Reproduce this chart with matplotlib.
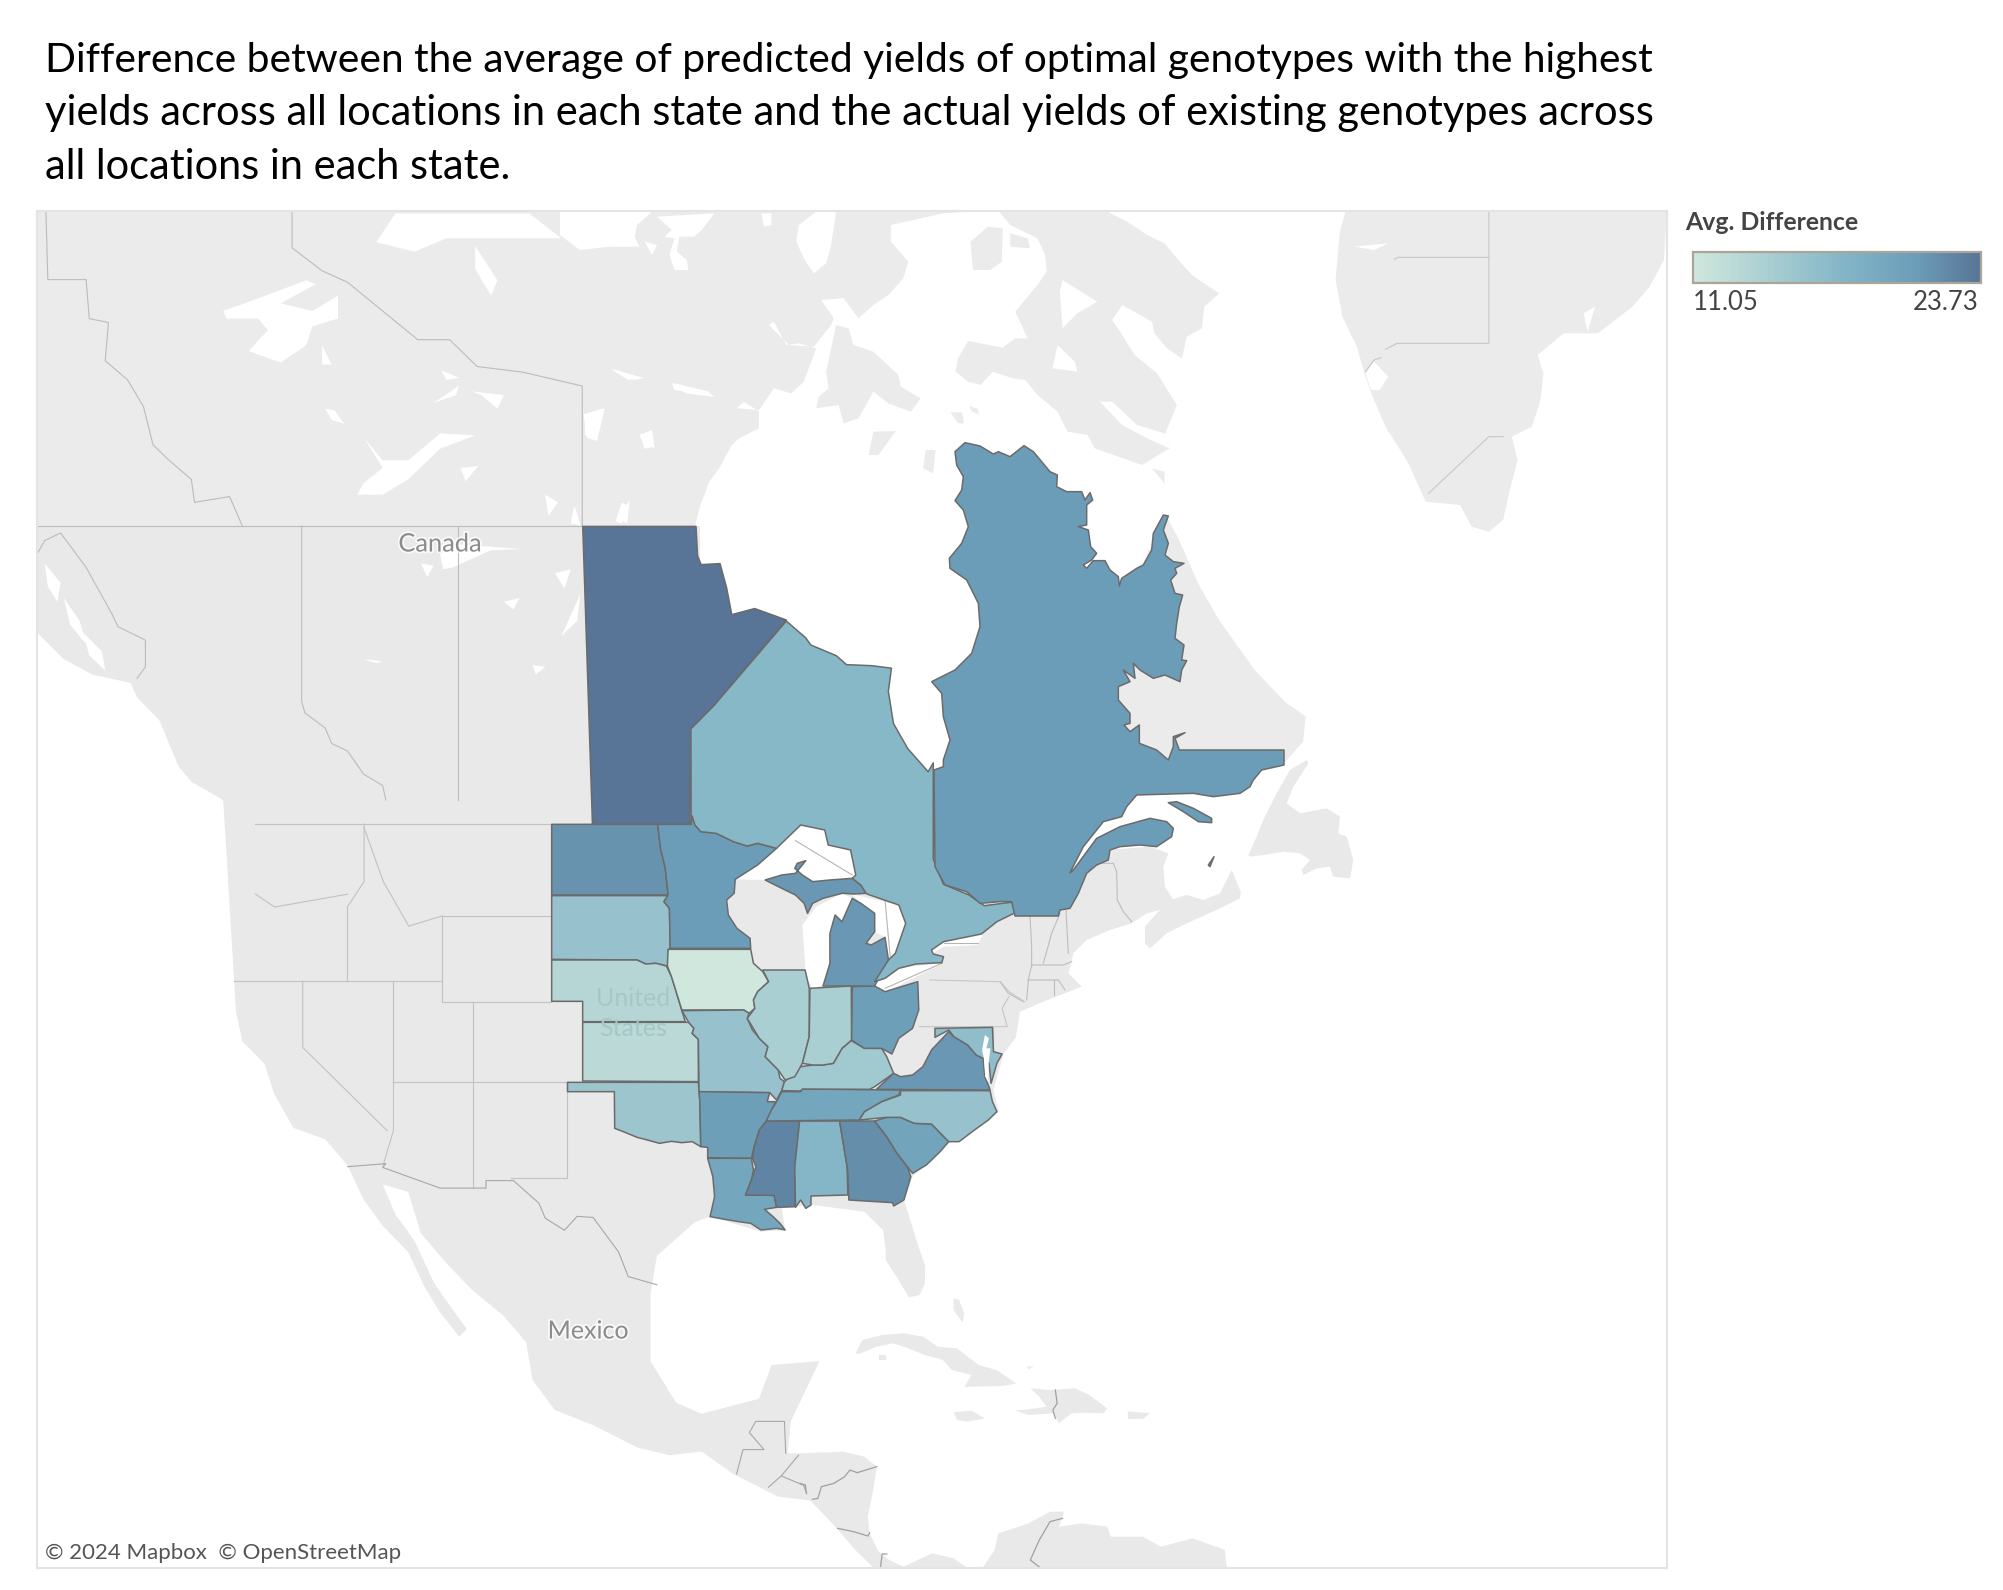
import matplotlib
matplotlib.use("Agg")
import matplotlib.pyplot as plt
import matplotlib.patheffects as pe
from matplotlib.cm import ScalarMappable
from matplotlib.colors import LinearSegmentedColormap, Normalize
from matplotlib.patches import Polygon

CROP_A = (520, 800, 2.904, 3.0)    # US states
CROP_C = (520, 420, 1.96, 2.8)     # Manitoba, Ontario
CROP_Q = (900, 430, 3.0, 3.0)      # Quebec
CROP_W = (0, 200, 1.568, 2.613)    # western Canada
CROP_M = (0, 1000, 1.568, 2.658)   # Mexico
CROP_N = (560, 205, 2.01, 3.0)     # arctic
CROP_E = (800, 200, 1.742, 3.0)    # Greenland
CROP_T = (1000, 700, 3.0, 3.0)     # Maritimes
CROP_K = (800, 1250, 2.8, 3.0)     # Caribbean
CROP_S = (0, 0, 0.7828, 0.7828)    # whole picture at 1568 wide

TITLE_LINES = [
    "Difference between the average of predicted yields of optimal genotypes with the highest",
    "yields across all locations in each state and the actual yields of existing genotypes across",
    "all locations in each state.",
]
TITLE_SIZES = [29.35, 29.95, 29.9]
VALUE_MIN = 11.05
VALUE_MAX = 23.73
COLOR_STOPS = [(0.0, "#cfe7dd"), (0.55, "#80b3c6"), (0.775, "#6c9db8"), (1.0, "#587496")]

STATE_VALUES = {
    "MB": 23.73, "ON": 17.4, "QC": 20.9, "ND": 21.6, "SD": 16.0, "NE": 13.3, "KS": 12.9,
    "OK": 15.6, "MN": 20.9, "IA": 11.05, "MO": 16.0, "AR": 20.6, "LA": 19.7, "MS": 22.5,
    "AL": 17.65, "GA": 21.9, "SC": 20.0, "NC": 16.0, "TN": 19.7, "KY": 15.1, "IL": 14.3,
    "IN": 14.3, "OH": 20.6, "MI": 21.2, "VA": 21.2, "MD": 16.7,
}

ND = [(92,73),(400,73),(408,145),(422,205),(430,285),(92,285)]
SD = [(92,287),(430,287),(418,305),(434,325),(436,445),(430,450),(432,500),(415,495),(395,490),(365,492),(340,480),(92,478)]
NE = [(92,480),(340,480),(365,492),(395,490),(425,498),(440,530),(452,570),(470,632),(480,665),(182,665),(182,604),(92,604)]
KS = [(182,667),(490,667),(505,685),(500,700),(518,718),(518,845),(182,843)]
OK = [(138,847),(518,847),(522,900),(525,1040),(500,1025),(470,1028),(440,1024),(405,1030),(370,1020),(340,1012),(300,995),(275,985),(274,875),(138,875)]
MN = [(400,73),(497,73),(500,48),(508,75),(525,95),(570,100),(620,125),(660,138),(690,130),(745,145),(690,195),(625,238),(622,280),(600,300),(605,345),(630,385),(668,415),(670,445),(436,445),(434,325),(418,305),(430,285),(422,205),(408,145)]
IA = [(430,448),(670,448),(678,490),(705,515),(722,545),(690,575),(678,600),(682,625),(665,640),(650,630),(470,630),(452,570),(440,530),(428,498)]
MO = [(470,632),(650,630),(665,640),(660,655),(675,690),(695,715),(720,740),(712,770),(750,810),(755,835),(768,845),(760,872),(745,900),(725,878),(520,875),(518,718),(500,700),(505,685),(490,667)]
AR = [(520,875),(725,878),(718,905),(742,905),(725,945),(715,965),(695,990),(680,1040),(672,1075),(545,1073),(545,1042),(525,1040),(522,900)]
LA = [(545,1075),(672,1075),(678,1110),(672,1140),(655,1185),(738,1186),(745,1222),(710,1228),(735,1250),(755,1270),(770,1290),(745,1285),(700,1290),(670,1270),(635,1265),(595,1258),(552,1250),(565,1190),(560,1130)]
MS = [(715,963),(812,963),(798,1100),(800,1220),(745,1222),(738,1186),(655,1185),(672,1140),(685,1100),(675,1075),(680,1040),(695,990)]
AL = [(812,963),(928,963),(950,1100),(952,1185),(845,1188),(845,1215),(830,1225),(815,1200),(800,1222),(798,1100)]
GA = [(928,963),(1030,963),(1065,1010),(1095,1060),(1125,1100),(1135,1130),(1115,1200),(1085,1218),(1082,1208),(955,1200),(952,1120),(950,1100)]
SC = [(1030,963),(1065,952),(1105,952),(1145,970),(1195,972),(1245,1025),(1220,1055),(1180,1095),(1140,1120),(1125,1100),(1095,1060),(1065,1010)]
NC = [(1105,872),(1365,872),(1372,905),(1385,935),(1360,960),(1320,990),(1275,1025),(1245,1025),(1195,972),(1145,970),(1105,952),(1065,952),(985,960),(1000,935),(1050,905),(1105,885)]
TN = [(760,875),(815,875),(820,867),(1105,870),(1100,885),(1050,905),(1000,935),(985,960),(715,963),(730,930),(745,905)]
KY = [(768,845),(815,800),(850,795),(880,795),(910,790),(935,745),(962,722),(1000,745),(1050,745),(1065,770),(1085,820),(1030,860),(1015,868),(820,867),(815,873),(760,872)]
IL = [(705,510),(828,510),(840,565),(840,710),(820,790),(798,830),(770,840),(750,810),(712,770),(720,740),(695,715),(660,655),(682,625),(678,600),(690,575),(722,545)]
IN = [(842,565),(962,558),(963,720),(935,745),(910,790),(880,795),(850,795),(820,790),(840,710)]
OH = [(965,560),(1030,558),(1060,575),(1155,545),(1158,630),(1140,685),(1100,715),(1080,762),(1050,745),(1000,745),(963,720)]
MI_LOWER = [(880,558),(1030,558),(1070,480),(1060,412),(1020,435),(1005,430),(1030,395),(1030,340),(990,310),(965,295),(935,365),(915,345),(900,400),(900,490)]
MI_UPPER = [(712,240),(760,225),(800,220),(830,182),(805,190),(798,205),(820,225),(850,245),(900,240),(965,235),(990,255),(1005,280),(970,282),(935,280),(880,295),(850,310),(835,340),(825,310),(800,285),(760,265)]
VA = [(1035,868),(1085,820),(1105,830),(1140,825),(1170,800),(1195,750),(1245,695),(1260,710),(1300,735),(1325,765),(1345,775),(1350,830),(1362,860),(1365,870)]
MD = [(1205,685),(1372,682),(1375,755),(1400,762),(1385,790),(1368,850),(1362,790),(1345,775),(1325,765),(1300,735),(1260,710),(1245,690),(1205,712)]

MB = [(123,298),(345,298),(348,380),(355,405),(392,402),(405,470),(415,545),(460,528),(522,560),(380,800),(335,865),(333,1132),(142,1132)]
ON_NORTH = [(335,865),(380,800),(522,563),(560,610),(570,630),(620,660),(640,685),(690,688),(728,695),(722,760),(732,850),(760,920),(800,985),(810,960),(810,1230),(830,1300),(880,1330),(910,1360),(965,1350),(970,1380)]
ON_SOUTH = [(1385,365),(1340,402),(1230,425),(1195,450),(1200,462),(1230,470),(1225,488),(1150,492),(1100,505),(1060,535),(1030,545),(1070,480),(1090,460),(1120,370),(1100,315),(1010,283),(1005,280),(990,255),(965,235),(975,225),(960,150),(895,135),(885,90),(815,75),(765,125),(745,145),(690,130),(660,138),(620,125),(570,100),(525,95),(508,75),(500,48),(497,73)]

QC = [(165,65),(195,38),(240,48),(280,72),(295,65),(330,80),(372,47),(400,65),(425,95),(450,125),(472,135),(470,170),(500,185),(545,185),(555,210),(570,188),(578,210),(560,225),(560,285),(535,290),(565,300),(572,350),(590,370),(575,390),(550,405),(560,415),(580,392),(615,392),(630,420),(655,440),(658,468),(665,445),(710,415),(730,405),(755,360),(760,310),(790,255),(805,258),(790,300),(805,340),(795,375),(820,395),(852,400),(825,415),(830,430),(812,450),(825,490),(848,495),(838,530),(830,580),(825,625),(852,645),(845,690),(860,692),(845,720),(840,755),(795,735),(760,745),(720,720),(700,700),(705,745),(670,720),(690,755),(655,770),(655,810),(690,850),(690,880),(672,885),(690,905),(718,885),(718,940),(770,960),(805,990),(820,950),(820,920),(855,908),(825,925),(838,960),(1152,960),(1152,1005),(1085,1020),(1060,1050),(1050,1070),(1020,1090),(940,1100),(880,1090),(710,1095),(680,1130),(665,1160),(610,1175),(550,1250),(510,1328),(520,1320),(590,1225),(660,1190),(750,1165),(800,1175),(820,1195),(815,1220),(770,1250),(720,1245),(660,1250),(630,1260),(625,1290),(590,1305),(560,1330),(535,1390),(510,1435),(480,1440),(475,1458),(345,1458),(335,1415),(300,1415),(240,1420),(200,1385),(135,1365),(105,1310),(102,1020),(130,1010),(130,990),(150,930),(130,860),(125,790),(95,755),(165,720),(215,670),(240,590),(235,520),(200,450),(150,415),(148,385),(185,340),(205,290),(190,240),(165,212),(185,180),(190,140),(170,105)]
QC_ANTICOSTI = [(805,1118),(830,1115),(880,1135),(935,1165),(935,1178),(895,1175),(850,1145)]
QC_MAGDALEN = [(925,1305),(942,1280),(930,1310)]

# background land
ARCTIC_EAST = [(1100,20),(1140,50),(1180,90),(1215,115),(1240,160),(1270,210),(1325,265),(1295,305),(1290,370),(1260,395),(1250,460),(1220,430),(1195,385),(1190,350),(1130,300),(1110,345),(1130,390),(1155,450),(1200,505),(1240,600),(1215,690),(1225,730),(1170,780)]
HUDSON_NORTH = [(665,60),(770,25),(880,15),(905,60),(960,100),(975,150),(978,200),(960,240),(915,320),(940,400),(915,400),(890,428),(820,408),(800,460),(795,500),(820,530),(845,540),(870,500),(910,520),(935,525),(960,570),(1000,620),(1020,680),(1060,690),(1075,730),(1170,780),(1190,800),(1215,830),(1400,830),(1400,1020)]
HUDSON_SOUTH = [(1000,900),(800,985),(760,920),(732,850),(722,760),(728,695),(690,688),(640,685),(620,660),(570,630),(522,563),(460,528),(415,545),(405,470),(392,402),(355,405),(348,380),(345,298)]
HUDSON_WEST = [(272,960),(280,910),(300,830),(320,790),(345,720),(360,700),(400,670),(400,620),(370,590),(355,610),(400,615),(430,550),(465,565),(490,530),(515,430),(480,415),(455,420),(430,350),(420,360),(460,420),(510,425),(545,360),(550,340),(525,285),(570,280),(600,340),(630,300),(660,270),(690,220),(700,170),(665,110)]
LABRADOR = [(1265,265),(1290,330),(1330,460),(1370,560),(1440,700),(1500,790),(1540,830),(1535,900),(1495,965),(1400,1000),(1100,950),(1100,600),(1170,480),(1215,420)]
WEST_COAST = [(58,852),(58,1130),(100,1200),(145,1240),(205,1262),(215,1300),(250,1360),(280,1480),(300,1520),(350,1568)]
PACIFIC_US = [(370,30),(380,110),(415,170),(430,250),(460,340),(510,370),(545,440),(570,530),(600,600),(640,670),(665,760),(690,830),(720,895),(732,875),(700,800),(680,750),(650,640),(620,570),(600,490),(640,510),(660,620),(700,700),(740,770),(790,840),(825,910),(835,1010),(870,1090),(930,1130),(1000,1190),(1050,1210),(1100,1200),(1150,1260),(1220,1320),(1270,1330),(1310,1400),(1340,1460),(1370,1510)]
ISTHMUS = [(195,955),(470,955),(430,925),(370,910),(290,950),(250,930),(220,905),(195,850),(190,800),(205,720),(215,650),(180,620),(120,605),(0,610)]
GULF_MEXICO = [(1235,1205),(1240,1120),(1285,960),(1210,970),(1190,1060),(1100,1100),(1060,1070),(1020,960),(1020,780),(1030,680),(1090,590),(1115,575)]
GULF_US = [(552,1250),(700,1295),(770,1290),(760,1225),(850,1215),(1000,1235),(1054,1290)]
FLORIDA = [(240,0),(240,30),(270,80),(305,142),(335,135),(350,100),(350,45),(335,0)]
ATLANTIC_US = [(1115,1200),(1140,1130),(1245,1030),(1390,935),(1375,870),(1405,760),(1440,712)]
NEW_ENGLAND = [(60,935),(130,905),(245,860),(205,820),(220,760),(260,720),(330,690),(395,670),(440,640),(520,620),(545,625),(520,600),(495,560),(490,500),(505,460),(450,440),(320,450)]
NOVA_SCOTIA = [(435,680),(470,640),(510,600),(560,585),(610,600),(660,580),(695,510),(722,575),(720,595),(660,625),(560,670),(500,700),(450,745),(435,730)]
NEWFOUNDLAND = [(745,465),(770,410),(790,360),(830,280),(870,210),(920,180),(925,190),(880,260),(860,310),(900,340),(980,325),(1020,350),(1015,400),(1040,410),(1060,480),(1050,535),(1000,530),(990,500),(950,505),(910,525),(905,510),(930,480),(900,460),(850,455),(790,465),(750,470)]
GREENLAND = [(950,35),(940,100),(933,240),(945,350),(970,440),(985,530),(1000,600),(1020,680),(1060,790),(1090,905),(1150,915),(1170,980),(1200,995),(1225,960),(1235,880),(1250,780),(1240,710),(1275,680),(1290,600),(1295,520),(1285,465),(1330,400),(1390,400),(1450,320),(1480,260),(1505,180),(1510,35)]
SOUTHAMPTON = [(555,360),(580,370),(590,420),(630,440),(680,510),(685,545),(725,580),(705,620),(660,595),(630,560),(600,640),(570,655),(560,600),(515,610),(520,575),(540,550),(535,500)]
ARCTIC_ISLANDS = [
    [(825,110),(860,65),(890,70),(888,170),(865,195),(830,195)],
    [(905,85),(940,100),(945,130),(905,125)],
    [(630,680),(675,678),(640,750),(620,750)],
    [(735,735),(755,735),(750,805),(730,790)],
    [(785,622),(808,622),(812,655),(800,655)],
    [(822,602),(840,612),(842,628),(828,620)],
    [(1190,790),(1215,800),(1215,835)],
]
CARIBBEAN = [
    [(155,310),(175,270),(230,255),(290,250),(345,260),(385,290),(440,295),(500,345),(550,360),(605,400),(570,408),(480,410),(460,412),(480,375),(425,360),(400,330),(350,315),(290,290),(260,280),(215,290),(165,312)],
    [(220,315),(240,315),(240,330),(222,330)],
    [(430,487),(480,482),(518,505),(470,515),(440,510)],
    [(645,415),(700,420),(770,415),(810,435),(860,475),(850,490),(800,488),(760,490),(725,520),(710,490),(640,495),(600,480),(625,480),(690,470),(670,440)],
    [(918,484),(980,490),(960,507),(918,507)],
    [(430,145),(445,150),(460,190),(455,218),(430,180)],
    [(635,350),(655,348),(640,358)],
    [(510,955),(545,900),(555,850),(640,820),(700,785),(740,785),(725,830),(790,820),(860,830),(870,860),(960,860),(1010,890),(1100,865),(1190,900),(1195,955)],
]

# lakes and channels
LAKE_SUPERIOR = [(625,238),(660,200),(745,145),(815,75),(885,90),(895,135),(960,150),(975,225),(965,235),(1005,280),(712,240)]
LAKE_MICHIGAN = [(820,375),(860,320),(935,280),(965,295),(935,365),(915,345),(900,400),(900,490),(880,555),(850,565),(830,530),(825,450)]
LAKE_HURON = [(965,283),(1100,315),(1122,370),(1090,470),(1070,480),(1060,412),(1030,395),(1030,340),(990,310)]
LAKE_ERIE = [(1030,545),(1100,505),(1225,488),(1220,495),(1160,525),(1060,578),(1030,560)]
LAKE_ONTARIO = [(1195,450),(1230,425),(1345,400),(1330,435),(1230,440),(1195,462)]
ST_LAWRENCE = [(510,1328),(590,1225),(660,1190),(800,1175),(1000,1100),(700,1095),(665,1160),(610,1175),(550,1250)]
CHESAPEAKE = [(1350,705),(1362,715),(1354,745),(1366,745),(1361,790),(1359,845),(1351,830),(1347,775),(1342,750)]
WEST_LAKES = [
    [(350,290),(400,260),(480,210),(495,220),(440,270),(490,290),(530,250),(530,310),(490,330),(480,380),(440,425),(390,395),(420,340),(405,310),(355,310)],
    [(570,620),(600,680),(640,680),(690,610),(745,615),(690,650),(640,730),(600,770),(560,770),(570,740),(600,700)],
    [(590,110),(620,35),(770,35),(830,35),(880,100),(700,100),(650,135)],
    [(745,120),(780,210),(770,250),(745,180)],
    [(505,380),(520,430),(505,430)],
    [(510,545),(525,550),(540,585),(520,575)],
    [(915,560),(945,545),(935,630),(920,620)],
    [(1005,610),(1025,645),(1010,650)],
    [(1055,478),(1110,500),(1120,515),(1075,505)],
    [(958,442),(1010,465),(985,470)],
    [(975,790),(985,800),(975,845),(965,840)],
    [(855,770),(875,790),(860,825)],
    [(900,800),(910,850),(895,845)],
    [(680,530),(720,485),(715,510)],
    [(740,500),(790,510),(780,545),(755,510)],
    [(692,445),(720,465),(700,470)],
    [(722,700),(750,695),(730,735)],
    [(660,950),(680,955),(670,985)],
    [(870,975),(895,965),(885,1015)],
    [(790,1050),(815,1040),(805,1070)],
    [(835,1215),(855,1220),(840,1240)],
    [(570,1200),(600,1205),(590,1210)],
    [(880,1140),(910,1030),(905,1100)],
    [(690,925),(720,900),(820,912),(770,915),(710,960),(695,965)],
    [(150,1300),(185,1300),(215,1400),(200,1435),(170,1380)],
]
# fjords along the British Columbia coast
COAST_FJORDS = [
    [(70,950),(95,1000),(90,1050),(75,1010)],
    [(100,1040),(125,1100),(135,1160),(110,1110)],
    [(130,1130),(160,1180),(165,1230),(140,1190)],
]
NORTH_LAKES = [
    [(0,20),(185,20),(155,60),(150,95),(160,125),(100,125),(40,135),(0,90)],
    [(195,35),(310,25),(285,75),(270,95),(240,95),(235,140),(255,165),(258,195),(230,195),(220,150),(230,100),(210,95),(225,75)],
    [(405,25),(425,25),(425,60),(410,65)],
    [(480,60),(515,20),(555,20),(545,120),(535,175),(510,205),(490,160),(475,110)],
    [(170,110),(195,120),(185,150)],
    [(1010,225),(1080,290),(1040,325),(1010,370),(1005,260)],
    [(1000,420),(1035,470),(1040,500),(990,490)],
    [(1085,590),(1110,590),(1160,660),(1215,685),(1225,730),(1180,700),(1130,660)],
    [(1015,680),(1040,690),(1040,715),(1015,690)],
    [(50,630),(90,610),(75,705),(50,690)],
    [(160,690),(185,675),(190,730),(165,710)],
    [(225,535),(295,560),(290,570),(230,555)],
    [(105,490),(165,520),(150,525)],
    [(115,940),(140,885),(135,955)],
    [(30,905),(40,955),(25,955)],
    [(530,285),(570,280),(595,340),(555,345)],
]
GREENLAND_FJORDS = [
    [(985,520),(1000,485),(1025,530),(1010,570),(995,570)],
    [(1365,340),(1385,320),(1372,395)],
    [(965,140),(1025,130),(1000,150)],
]

# thin borders, one list per line
WEST_BORDERS = [
    [(473,852),(473,1310),(478,1340),(510,1380),(520,1420),(545,1440),(570,1500),(600,1530),(605,1568)],
    [(718,852),(718,1568)],
    [(72,30),(75,208),(135,208),(140,310),(170,320),(165,420),(200,470),(225,540),(240,640),(265,680),(300,730),(305,790),(360,775),(380,852)],
    [(458,30),(458,125),(505,185),(545,215),(655,365),(705,365),(748,435),(820,450),(913,486),(913,852)],
    [(60,920),(70,890),(95,870),(135,960),(175,1080),(185,1115),(228,1150),(228,1220),(215,1250)],
    [(60,852),(913,852)],
]
US_WEST_BORDERS = [
    [(200,645),(463,645)],
    [(285,645),(285,690),(272,710),(272,768)],
    [(285,648),(300,690),(320,725),(346,717)],
    [(346,717),(346,784),(431,784),(431,717),(346,717)],
    [(200,700),(215,710),(272,700)],
    [(183,768),(346,768)],
    [(308,768),(308,847)],
    [(237,768),(237,820),(303,885)],
    [(370,784),(370,930)],
    [(308,847),(444,847)],
    [(308,847),(308,885),(302,905),(300,912)],
    [(444,847),(444,922),(400,922)],
]
MEXICO_BORDERS = [
    [(545,443),(605,435),(600,445),(690,500),(762,500),(762,480),(805,480),(845,540),(855,580),(885,612),(905,575),(930,578),(970,670),(985,735),(1030,757)],
    [(1155,1260),(1165,1195),(1198,1195),(1175,1150),(1185,1120),(1230,1120),(1232,1205)],
    [(1205,1295),(1225,1265),(1252,1210)],
    [(1225,1265),(1260,1290),(1265,1312)],
]
CARIBBEAN_BORDERS = [
    [(0,700),(15,705),(18,730)],
    [(35,748),(50,745),(60,710),(95,700),(125,680),(140,660),(160,668),(215,650)],
    [(105,835),(150,845),(190,858),(195,848)],
    [(225,955),(230,912),(243,912)],
    [(735,805),(700,815),(670,870),(645,930),(675,955)],
    [(715,420),(720,460),(708,480),(715,505)],
]
NORTHEAST_BORDERS = [
    [(295,490),(340,490),(350,515),(352,600),(370,635),(395,665)],
    [(90,648),(95,740),(95,800)],
    [(180,640),(155,700),(130,790)],
    [(198,632),(205,760)],
    [(95,795),(190,795),(215,785)],
    [(95,795),(85,840),(80,900)],
    [(85,840),(175,840),(195,870)],
    [(163,840),(163,885)],
    [(0,845),(25,880),(70,905)],
]
NEW_YORK_BORDERS = [
    [(1190,540),(1395,545),(1420,575),(1465,605)],
    [(1160,680),(1415,680),(1400,625),(1420,590)],
    [(1375,680),(1375,760)],
]
LAKE_BORDERS = [
    [(800,122),(965,225)],
    [(1060,300),(1075,470)],
    [(1060,565),(1225,490)],
    [(1230,430),(1330,430)],
]
GREENLAND_BORDERS = [
    [(1200,35),(1200,430),(1040,430),(1020,448)],
    [(1035,178),(1042,172),(1200,172)],
    [(1095,880),(1200,710),(1225,710)],
    [(985,515),(1000,480),(1012,473)],
]

LAND = "#e9e9e9"
LAND_NORTH = "#ebebeb"
EDGE = "#6b6b6b"

plt.rcParams["font.family"] = ["Lato", "DejaVu Sans"]


def place(points, crop):
    left, top, sx, sy = crop
    return [(left + x / sx, top + y / sy) for x, y in points]


fig = plt.figure(figsize=(20.03, 15.90), dpi=100)
# the map axes sits on the frame, its units are picture pixels
ax = fig.add_axes([37 / 2003, 1 - 1568 / 1590, (1667 - 37) / 2003, (1568 - 211) / 1590])
ax.set_xlim(37, 1667)
ax.set_ylim(1568, 211)
ax.set_xticks([])
ax.set_yticks([])
for spine in ax.spines.values():
    spine.set_color("#e4e4e4")
    spine.set_linewidth(1.5)


def fill(points, color, z):
    ax.add_patch(Polygon(points, closed=True, facecolor=color, edgecolor="none", zorder=z))


def line(points, color, width, z=3):
    xs, ys = zip(*points)
    ax.plot(xs, ys, color=color, linewidth=width, zorder=z, solid_joinstyle="round")


# land first, water on top of it, then the rest of the land
arctic = [(37, 211)] + place(ARCTIC_EAST, CROP_N) + [(1000, 640), (700, 700), (37, 540)]
fill(arctic, LAND_NORTH, 1)

hudson = place(HUDSON_NORTH, CROP_N) + place(HUDSON_SOUTH, CROP_C) + place(HUDSON_WEST, CROP_N)
fill(hudson, "white", 1.1)
for lake in NORTH_LAKES:
    fill(place(lake, CROP_N), "white", 1.1)
for lake in WEST_LAKES:
    if lake[0][1] < 852:
        fill(place(lake, CROP_W), "white", 1.1)
fill(place(SOUTHAMPTON, CROP_N), LAND_NORTH, 1.2)
for island in ARCTIC_ISLANDS:
    fill(place(island, CROP_N), LAND_NORTH, 1.2)

fill(place(LABRADOR, CROP_C), LAND_NORTH, 1.2)
fill(place(GREENLAND, CROP_E), LAND_NORTH, 1.2)
for fjord in GREENLAND_FJORDS:
    fill(place(fjord, CROP_E), "white", 1.3)

main_land = (
    place(WEST_COAST, CROP_W)
    + place(PACIFIC_US, CROP_M)
    + place(ISTHMUS, CROP_K)
    + place(GULF_MEXICO, CROP_M)
    + place(GULF_US, CROP_A)
    + place(FLORIDA, CROP_K)
    + place(ATLANTIC_US, CROP_A)
    + place(NEW_ENGLAND, CROP_T)
    + [(700, 700), (700, 526)]
)
fill(main_land, LAND, 1.4)
fill(place(NOVA_SCOTIA, CROP_T), LAND, 1.4)
fill(place(NEWFOUNDLAND, CROP_T), LAND, 1.4)
for island in CARIBBEAN:
    fill(place(island, CROP_K), LAND, 1.4)
for lake in WEST_LAKES + COAST_FJORDS:
    if lake[0][1] >= 852:
        fill(place(lake, CROP_W), "white", 1.5)
for lake in [LAKE_SUPERIOR, LAKE_MICHIGAN, LAKE_HURON, LAKE_ERIE, LAKE_ONTARIO]:
    fill(place(lake, CROP_A), "white", 1.5)
fill(place(ST_LAWRENCE, CROP_Q), "white", 1.5)

for border in WEST_BORDERS:
    line(place(border, CROP_W), "#bcbcbc", 0.8, 2)
for border in US_WEST_BORDERS:
    line(place(border, CROP_S), "#c2c2c2", 0.8, 2)
for border in MEXICO_BORDERS:
    line(place(border, CROP_M), "#a8a8a8", 0.8, 2)
for border in CARIBBEAN_BORDERS:
    line(place(border, CROP_K), "#a0a0a0", 0.9, 2)
for border in NORTHEAST_BORDERS:
    line(place(border, CROP_T), "#bdbdbd", 0.8, 2)
for border in NEW_YORK_BORDERS:
    line(place(border, CROP_A), "#c6c6c6", 0.8, 2)
for border in LAKE_BORDERS:
    line(place(border, CROP_A), "#b5b5b5", 0.8, 2)
for border in GREENLAND_BORDERS:
    line(place(border, CROP_E), "#c8c8c8", 0.8, 2)

# colour scale and the filled states
cmap = LinearSegmentedColormap.from_list("avg_difference", COLOR_STOPS)
norm = Normalize(VALUE_MIN, VALUE_MAX)

state_shapes = [
    ("ND", place(ND, CROP_A)), ("SD", place(SD, CROP_A)), ("NE", place(NE, CROP_A)),
    ("KS", place(KS, CROP_A)), ("OK", place(OK, CROP_A)), ("MN", place(MN, CROP_A)),
    ("IA", place(IA, CROP_A)), ("MO", place(MO, CROP_A)), ("AR", place(AR, CROP_A)),
    ("LA", place(LA, CROP_A)), ("MS", place(MS, CROP_A)), ("AL", place(AL, CROP_A)),
    ("GA", place(GA, CROP_A)), ("SC", place(SC, CROP_A)), ("NC", place(NC, CROP_A)),
    ("TN", place(TN, CROP_A)), ("KY", place(KY, CROP_A)), ("IL", place(IL, CROP_A)),
    ("IN", place(IN, CROP_A)), ("OH", place(OH, CROP_A)), ("MI", place(MI_LOWER, CROP_A)),
    ("MI", place(MI_UPPER, CROP_A)), ("VA", place(VA, CROP_A)), ("MD", place(MD, CROP_A)),
    ("MB", place(MB, CROP_C)), ("ON", place(ON_NORTH, CROP_C) + place(ON_SOUTH, CROP_A)),
    ("QC", place(QC, CROP_Q)), ("QC", place(QC_ANTICOSTI, CROP_Q)), ("QC", place(QC_MAGDALEN, CROP_Q)),
]
for name, shape in state_shapes:
    ax.add_patch(Polygon(shape, closed=True, facecolor=cmap(norm(STATE_VALUES[name])),
                         edgecolor=EDGE, linewidth=1.1, joinstyle="round", zorder=4))
fill(place(CHESAPEAKE, CROP_A), "white", 4.5)

# map labels
halo = [pe.withStroke(linewidth=2.5, foreground="white", alpha=0.8)]
ax.text(440, 544, "Canada", color="#8c8c8c", fontsize=18.3, ha="center", va="center", zorder=5, path_effects=halo)
ax.text(588, 1331, "Mexico", color="#8c8c8c", fontsize=18, ha="center", va="center", zorder=5, path_effects=halo)
ax.text(633, 999, "United", color="#a6c7c7", fontsize=18, ha="center", va="center", zorder=5)
ax.text(633, 1029, "States", color="#a6c7c7", fontsize=18, ha="center", va="center", zorder=5)
ax.text(45, 1553, "\u00a9 2024 Mapbox  \u00a9 OpenStreetMap", color="#555555", fontsize=16,
        ha="left", va="center", zorder=5)

# title
for text, size, baseline in zip(TITLE_LINES, TITLE_SIZES, [72, 125, 179]):
    fig.text(45 / 2003, 1 - baseline / 1590, text, color="black", fontsize=size, va="baseline", ha="left")

# legend
cax = fig.add_axes([1693 / 2003, 1 - 283 / 1590, (1981 - 1693) / 2003, (283 - 252) / 1590])
bar = fig.colorbar(ScalarMappable(norm=norm, cmap=cmap), cax=cax, orientation="horizontal")
bar.set_ticks([])
bar.outline.set_edgecolor("#aaa597")
bar.outline.set_linewidth(1.6)
fig.text(1685 / 2003, 1 - 222 / 1590, "Avg. Difference", color="#444444", fontsize=17.8,
         fontweight="bold", va="center", ha="left")
fig.text(1693 / 2003, 1 - 303 / 1590, f"{VALUE_MIN:.2f}", color="#444444", fontsize=18.5, va="center", ha="left")
fig.text(1979 / 2003, 1 - 303 / 1590, f"{VALUE_MAX:.2f}", color="#444444", fontsize=18.5, va="center", ha="right")

fig.savefig("out.png", dpi=100)
